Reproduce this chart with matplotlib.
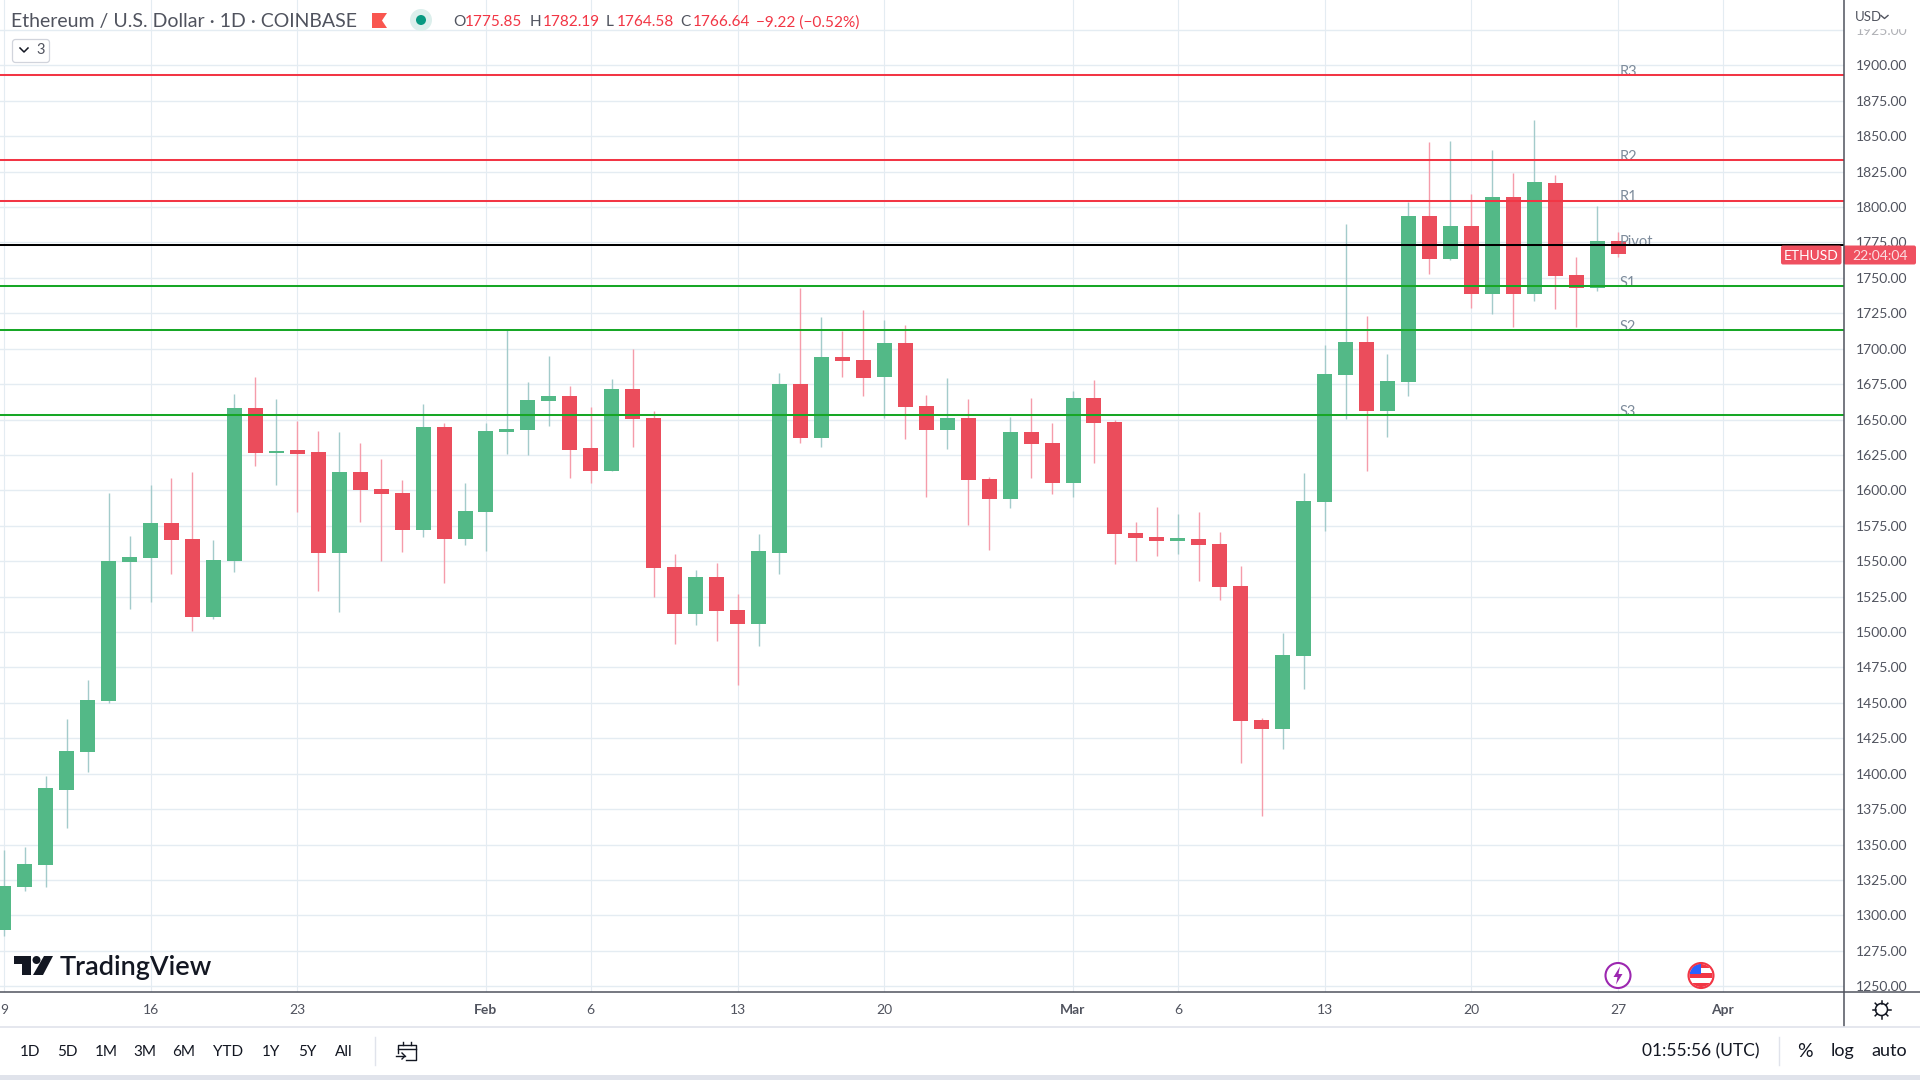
import matplotlib
matplotlib.use("Agg")
import matplotlib.pyplot as plt
import matplotlib.patches as mpatches
import pandas as pd

plt.rcParams["font.family"] = ["Lato", "DejaVu Sans"]

# daily ETHUSD candles, 9 Jan .. 27 Mar
opens = [
    1289.7, 1320.1, 1335.6, 1388.5, 1415.4, 1451.4, 1549.4, 1552.2, 1576.9, 1565.6, 1510.6, 1550.1,
    1658.1, 1626.3, 1628.4, 1627.0, 1555.7, 1612.9, 1600.9, 1598.1, 1572.0, 1644.7, 1565.6,
    1584.7, 1641.2, 1642.6, 1663.0, 1666.6, 1629.9, 1613.6, 1671.5, 1651.0, 1545.8, 1512.7, 1538.8,
    1515.5, 1505.6, 1555.7, 1675.0, 1636.9, 1694.1, 1692.0, 1680.0, 1704.0, 1659.5, 1642.6, 1651.0,
    1608.0, 1593.9, 1641.1, 1633.4,
    1605.1, 1665.1, 1648.2, 1569.8, 1567.0, 1564.2, 1565.6, 1562.1, 1532.5, 1437.9, 1431.6, 1483.1,
    1591.8, 1681.4, 1704.7, 1656.0, 1676.4, 1793.6, 1763.3, 1786.6, 1738.6, 1807.0, 1738.6, 1816.9,
    1752.0, 1742.8, 1775.85,
]
highs = [
    1346.2, 1348.3, 1398.4, 1438.7, 1466.2, 1598.1, 1567.7, 1603.7, 1608.7, 1612.9, 1564.9, 1668.0,
    1680.0, 1664.5, 1648.9, 1641.9, 1641.2, 1633.4, 1622.1, 1607.3, 1660.9, 1647.5, 1605.2,
    1647.5, 1713.9, 1676.5, 1694.8, 1673.6, 1658.8, 1678.6, 1699.7, 1656.0, 1555.0, 1543.7, 1548.7,
    1526.8, 1569.1, 1682.8, 1742.8, 1722.3, 1712.4, 1727.3, 1720.2, 1716.7, 1667.3, 1679.3, 1664.4,
    1609.4, 1651.7, 1665.1, 1647.5,
    1670.1, 1677.9, 1649.6, 1577.6, 1588.2, 1583.3, 1584.7, 1570.5, 1546.6, 1439.3, 1499.3, 1612.3,
    1702.6, 1788.0, 1723.0, 1696.2, 1803.5, 1845.9, 1846.6, 1809.1, 1840.2, 1824.0, 1861.4, 1822.5,
    1764.7, 1800.7, 1782.19,
]
lows = [
    1285.5, 1317.2, 1320.1, 1361.7, 1401.2, 1449.9, 1516.2, 1521.1, 1540.9, 1500.7, 1509.2, 1542.3,
    1617.2, 1603.7, 1584.7, 1528.9, 1514.1, 1577.6, 1550.1, 1556.4, 1567.0, 1534.6, 1561.4,
    1557.1, 1625.6, 1624.9, 1645.4, 1608.7, 1605.2, 1613.6, 1630.6, 1524.7, 1491.5, 1504.9, 1493.6,
    1462.6, 1490.1, 1540.9, 1633.4, 1630.6, 1680.0, 1666.6, 1651.0, 1636.2, 1595.3, 1629.1, 1575.5,
    1557.8, 1587.5, 1608.7, 1597.4,
    1595.3, 1619.3, 1548.0, 1550.1, 1553.6, 1555.0, 1536.0, 1522.5, 1407.6, 1370.2, 1417.4, 1459.8,
    1571.3, 1650.3, 1613.4, 1637.6, 1666.5, 1752.7, 1762.6, 1728.7, 1724.4, 1715.3, 1733.6, 1728.0,
    1715.3, 1740.7, 1764.58,
]
closes = [
    1320.8, 1336.3, 1390.0, 1416.1, 1452.0, 1550.1, 1552.9, 1576.9, 1564.9, 1510.6, 1550.8, 1658.1,
    1626.3, 1627.7, 1625.6, 1555.7, 1612.9, 1600.2, 1597.4, 1572.0, 1644.7, 1565.6, 1585.4,
    1641.9, 1643.3, 1663.7, 1666.6, 1628.5, 1613.6, 1671.5, 1650.3, 1545.1, 1512.7, 1538.8, 1514.8,
    1505.6, 1557.1, 1675.0, 1636.9, 1694.1, 1691.3, 1679.3, 1704.0, 1658.8, 1642.6, 1651.0, 1607.3,
    1593.9, 1641.1, 1632.7, 1605.1,
    1665.1, 1647.5, 1569.1, 1566.3, 1564.2, 1566.3, 1561.4, 1531.7, 1437.2, 1431.6, 1483.8, 1592.5,
    1682.1, 1704.7, 1656.0, 1677.1, 1793.6, 1763.3, 1786.6, 1738.6, 1807.0, 1738.6, 1817.6, 1751.3,
    1742.8, 1776.0, 1766.64,
]
dates = pd.date_range("2023-01-09", periods=len(opens), freq="D")

# pivot levels
level_names = ["R3", "R2", "R1", "Pivot", "S1", "S2", "S3"]
level_values = [1893.2, 1833.2, 1804.5, 1773.2, 1744.3, 1713.2, 1653.2]
level_colors = ["#f23645", "#f23645", "#f23645", "#000000", "#17a726", "#17a726", "#17a726"]

tick_dates = ["2023-01-09", "2023-01-16", "2023-01-23", "2023-02-01", "2023-02-06", "2023-02-13",
              "2023-02-20", "2023-03-01", "2023-03-06", "2023-03-13", "2023-03-20", "2023-03-27",
              "2023-04-01"]
tick_labels = ["9", "16", "23", "Feb", "6", "13", "20", "Mar", "6", "13", "20", "27", "Apr"]
price_ticks = list(range(1250, 1950, 25))

range_buttons = ["1D", "5D", "1M", "3M", "6M", "YTD", "1Y", "5Y", "All"]
range_x = [30, 67, 106, 145, 184, 228, 271, 307, 344]

UP = "#53b987"
DOWN = "#eb4d5c"
UP_WICK = "#a3cbcb"
DOWN_WICK = "#f59caa"
GRID = "#e4ecf2"
TEXT = "#50535e"
DARK = "#131722"
ORANGE_RED = "#f23645"

fig = plt.figure(figsize=(19.2, 10.8), dpi=100, facecolor="white")
ax = fig.add_axes([0, 1 - 992 / 1080, 1843.5 / 1920, 992 / 1080])

# ── Candles ──────────────────────────────────────────────────────────────
wick_cols = [UP_WICK if c >= o else DOWN_WICK for o, c in zip(opens, closes)]
body_cols = [UP if c >= o else DOWN for o, c in zip(opens, closes)]
ax.vlines(dates, lows, highs, colors=wick_cols, linewidth=1.0, zorder=2)
ax.bar(dates, [abs(c - o) for o, c in zip(opens, closes)], bottom=[min(o, c) for o, c in zip(opens, closes)],
       width=0.7155, color=body_cols, linewidth=0, zorder=3)

# ── Pivot lines ──────────────────────────────────────────────────────────
label_x = pd.Timestamp("2023-03-27") + pd.Timedelta(days=0.05)
for name, val, col in zip(level_names, level_values, level_colors):
    ax.annotate(name, (label_x, val), xytext=(0, -0.5), textcoords="offset points", color="#7d8b9b",
                fontsize=10.5, va="baseline", ha="left", zorder=4)
    ax.axhline(val, color=col, linewidth=1.45, zorder=5)

# ── Axes ─────────────────────────────────────────────────────────────────
d0 = pd.Timestamp("2023-01-09")
ax.set_xlim(d0 - pd.Timedelta(days=0.18), d0 + pd.Timedelta(days=87.75))
ax.set_ylim(1245.98, 1946.09)
ax.set_yticks(price_ticks)
ax.set_yticklabels([f"{p:.2f}" for p in price_ticks])
ax.yaxis.tick_right()
ax.tick_params(axis="y", length=0, pad=9, labelsize=10, labelcolor=TEXT)
ax.set_xticks(pd.to_datetime(tick_dates))
ax.set_xticklabels(tick_labels)
ax.tick_params(axis="x", length=0, pad=9, labelsize=10, labelcolor=TEXT)
for lbl in ax.get_xticklabels():
    if lbl.get_text() in ("Feb", "Mar", "Apr"):
        lbl.set_fontweight("bold")
ax.set_axisbelow(True)
ax.grid(axis="y", color=GRID, linewidth=1.0)
ax.grid(axis="x", color=GRID, linewidth=0.8)
for s in ("top", "left", "right", "bottom"):
    ax.spines[s].set_visible(False)

# ── Chrome drawn in pixel coordinates ────────────────────────────────────
ov = fig.add_axes([0, 0, 1, 1])
ov.set_xlim(0, 1920)
ov.set_ylim(1080, 0)
ov.axis("off")
ov.patch.set_alpha(0)

# the top price label fades under the currency button
ov.add_patch(mpatches.Rectangle((1845, 0), 75, 28, color="white", zorder=1))
ov.add_patch(mpatches.Rectangle((1845, 28), 75, 9, color="white", alpha=0.55, zorder=1, linewidth=0))
ov.text(1855, 17, "USD", fontsize=9.5, color=TEXT, va="center", ha="left")
ov.plot([1881, 1884.5, 1888], [15.5, 18.5, 15.5], color=TEXT, lw=1)

ov.plot([1843.5, 1843.5], [0, 1026], color=TEXT, lw=1.1)
ov.plot([0, 1920], [992, 992], color=TEXT, lw=1.1)
ov.plot([0, 1920], [1026.5, 1026.5], color="#e0e3eb", lw=1.2)
ov.add_patch(mpatches.Rectangle((0, 1075), 1920, 5, color="#e0e3eb", linewidth=0))
ov.plot([375, 375], [1037, 1065], color="#e0e3eb", lw=1)
ov.plot([1779, 1779], [1037, 1065], color="#e0e3eb", lw=1)

# header
ov.text(11, 22, "Ethereum / U.S. Dollar · 1D · COINBASE", fontsize=14, color=TEXT, va="center", ha="left")
ov.add_patch(mpatches.Polygon([(372, 13), (387, 13), (382, 20.5), (387, 28), (372, 28)], color="#f9564f", linewidth=0))
ov.add_patch(mpatches.Circle((421, 20), 11, color="#dcefec", linewidth=0))
ov.add_patch(mpatches.Circle((421, 20), 5, color="#089981", linewidth=0))
for x, s, col in [(453, "O", TEXT), (465, "1775.85", ORANGE_RED), (530, "H", TEXT), (543, "1782.19", ORANGE_RED),
                  (606, "L", TEXT), (617, "1764.58", ORANGE_RED), (680, "C", TEXT), (692.5, "1766.64", ORANGE_RED),
                  (756, "−9.22 (−0.52%)", ORANGE_RED)]:
    ov.text(x, 22.5, s, fontsize=11.1, color=col, va="center", ha="left")

ov.add_patch(mpatches.FancyBboxPatch((12.5, 39.5), 37, 23, boxstyle="round,pad=0,rounding_size=3",
                                     fc="white", ec="#d1d4dc", lw=0.9))
ov.plot([20, 24, 28], [48, 52, 48], color=DARK, lw=1.1)
ov.text(36, 50.5, "3", fontsize=10.5, color=TEXT, va="center", ha="left")

# price tags
ov.add_patch(mpatches.FancyBboxPatch((1781, 245.5), 60.5, 19, boxstyle="round,pad=0,rounding_size=2", color="#ef5060", linewidth=0))
ov.add_patch(mpatches.FancyBboxPatch((1843.5, 245.5), 72.5, 19, boxstyle="round,pad=0,rounding_size=2", color="#ef5060", linewidth=0))
ov.text(1811, 256, "ETHUSD", fontsize=10, color="white", va="center", ha="center")
ov.text(1880, 256, "22:04:04", fontsize=10, color="#fbdde0", va="center", ha="center")

# watermark
ov.add_patch(mpatches.Polygon([(14, 956), (31, 956), (31, 975), (22, 975), (22, 964), (14, 964)], color=DARK, linewidth=0))
ov.add_patch(mpatches.Circle((36.5, 960), 4, color=DARK, linewidth=0))
ov.add_patch(mpatches.Polygon([(44, 956), (53, 956), (43, 975), (33, 975)], color=DARK, linewidth=0))
ov.text(60, 967, "TradingView", fontsize=19.5, color=DARK, va="center", ha="left", fontweight="semibold")

# event icons
ov.add_patch(mpatches.Circle((1618, 975.5), 12.5, fc="white", ec="#9c27b0", lw=1.5))
ov.add_patch(mpatches.Polygon([(1620, 966.5), (1613.5, 977), (1617.5, 977), (1616, 984.5), (1622.5, 974), (1618.5, 974)],
                              color="#9c27b0", linewidth=0))
flag_clip = mpatches.Circle((1701, 975.5), 11.5, transform=ov.transData)
for top, col in [(963, "#f23645"), (968, "white"), (973, "#f23645"), (978, "white"), (983, "#f23645")]:
    r = ov.add_patch(mpatches.Rectangle((1689, top), 24, 5, color=col, linewidth=0))
    r.set_clip_path(flag_clip)
canton = ov.add_patch(mpatches.Rectangle((1689, 963), 12, 11, color="#2962ff", linewidth=0))
canton.set_clip_path(flag_clip)
ov.add_patch(mpatches.Circle((1701, 975.5), 12.5, fc="none", ec="#f23645", lw=1.5))

# gear at the axes corner
ov.add_patch(mpatches.Circle((1881.5, 1009.5), 6, fc="white", ec=DARK, lw=1.1))
for dx, dy in [(0, -1), (0, 1), (1, 0), (-1, 0), (0.7, 0.7), (-0.7, 0.7), (0.7, -0.7), (-0.7, -0.7)]:
    ov.plot([1881.5 + 6 * dx, 1881.5 + 9 * dx], [1009.5 + 6 * dy, 1009.5 + 9 * dy], color=DARK, lw=1.1)

# bottom toolbar
for x, s in zip(range_x, range_buttons):
    ov.text(x, 1051.5, s, fontsize=11, color=DARK, va="center", ha="center")
ov.plot([398, 398, 416, 416, 406], [1053, 1045, 1045, 1060, 1060], color=DARK, lw=1)
ov.plot([398, 416], [1049, 1049], color=DARK, lw=1)
ov.plot([403, 403], [1042, 1045], color=DARK, lw=1)
ov.plot([411, 411], [1042, 1045], color=DARK, lw=1)
ov.plot([396, 405], [1056, 1056], color=DARK, lw=1)
ov.plot([402, 405, 402], [1053, 1056, 1059], color=DARK, lw=1)
ov.text(1759, 1051.5, "01:55:56 (UTC)", fontsize=12.5, color=DARK, va="center", ha="right")
ov.text(1804.5, 1051.5, "%", fontsize=14, color=DARK, va="center", ha="center")
ov.text(1842, 1051, "log", fontsize=13, color=DARK, va="center", ha="center")
ov.text(1889, 1051.5, "auto", fontsize=13, color=DARK, va="center", ha="center")

fig.savefig("out.png", dpi=100)
plt.close(fig)
